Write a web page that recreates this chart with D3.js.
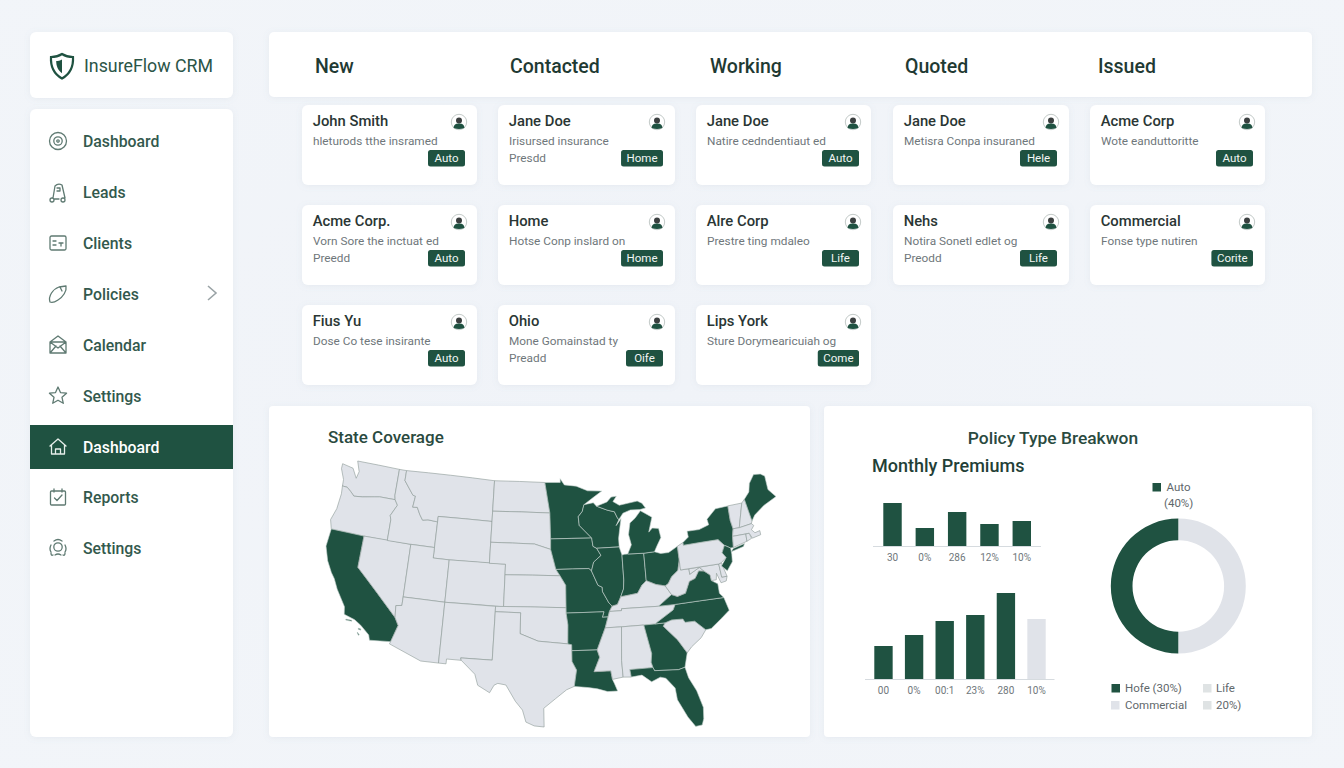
<!DOCTYPE html>
<html><head><meta charset="utf-8">
<script src="https://cdnjs.cloudflare.com/ajax/libs/d3/7.8.5/d3.min.js"></script>
<style>html,body{margin:0;padding:0;background:#f0f4f8;overflow:hidden}svg{display:block}text{font-family:Roboto,sans-serif}</style>
</head><body><svg id="c" width="1344" height="768"></svg>
<script>
// ---------- data ----------
const brandName = "InsureFlow CRM";
const navItems = ["Dashboard","Leads","Clients","Policies","Calendar","Settings","Dashboard","Reports","Settings"];
const navActive = 6;
const stages = ["New","Contacted","Working","Quoted","Issued"];
const cardNames = [
 ["John Smith","Acme Corp.","Fius Yu"],
 ["Jane Doe","Home","Ohio"],
 ["Jane Doe","Alre Corp","Lips York"],
 ["Jane Doe","Nehs"],
 ["Acme Corp","Commercial"]];
const cardLines = [
 ["hleturods tthe insramed","Vorn Sore the inctuat ed","Dose Co tese insirante"],
 ["Irisursed insurance","Hotse Conp inslard on","Mone Gomainstad ty"],
 ["Natire cedndentiaut ed","Prestre ting mdaleo","Sture Dorymearicuiah og"],
 ["Metisra Conpa insuraned","Notira Sonetl edlet og"],
 ["Wote eanduttoritte","Fonse type nutiren"]];
const cardExtras = [
 ["","Preedd",""],
 ["Presdd","","Preadd"],
 ["","",""],
 ["","Preodd"],
 ["",""]];
const cardTags = [
 ["Auto","Auto","Auto"],
 ["Home","Home","Oife"],
 ["Auto","Life","Come"],
 ["Hele","Life"],
 ["Auto","Corite"]];
const topBarLabels = ["30","0%","286","12%","10%"];
const topBarValues = [43,18,34,22,25];
const lowBarLabels = ["00","0%","00:1","23%","280","10%"];
const lowBarValues = [33,44,58,64,86,60];
const lowBarMuted = [false,false,false,false,false,true];
const donutValues = [50,50];
const donutNames = ["Other","Auto"];
const highlighted = ["CA","MN","WI","MI","IA","IL","IN","OH","MO","AR","LA","GA","FL","NC","VA","NY","NJ","ME"];
// state outlines in longitude/latitude
const stateShapes = {
WA:[[[-124.7,48.4],[-123.2,48.2],[-122.5,47.3],[-122.3,48],[-122.8,49],[-117.03,49],[-117.04,46.4],[-116.92,45.99],[-118.98,45.99],[-119.6,45.9],[-121.2,45.65],[-122.3,45.55],[-122.8,45.9],[-123.4,46.25],[-124.05,46.27],[-124.1,46.9],[-124.7,47.9]]],
OR:[[[-124.05,46.27],[-123.4,46.25],[-122.8,45.9],[-122.3,45.55],[-121.2,45.65],[-119.6,45.9],[-118.98,45.99],[-116.92,45.99],[-116.5,45.5],[-117.2,44.4],[-117.03,44],[-117.03,42],[-120,42],[-124.2,42],[-124.55,42.85],[-124.1,44],[-123.95,45.5]]],
CA:[[[-124.2,42],[-120,42],[-120,39],[-114.63,35],[-114.14,34.3],[-114.72,32.72],[-117.12,32.53],[-117.3,33],[-118.4,33.75],[-119.2,34.15],[-120.5,34.45],[-120.65,35.15],[-121.9,36.6],[-122.5,37.5],[-123,38],[-123.75,39],[-124.35,40.3]],
 [[-120.2,34.05],[-119.5,34.05],[-119.5,33.95],[-120.2,33.95]],[[-118.6,33.45],[-118.3,33.4],[-118.3,33.3],[-118.6,33.35]],[[-118.6,33.05],[-118.35,32.85],[-118.45,32.8],[-118.65,33]]],
NV:[[[-120,42],[-114.04,42],[-114.04,37],[-114.04,36.2],[-114.74,36.1],[-114.63,35],[-120,39]]],
ID:[[[-117.03,49],[-116.05,49],[-116.05,48],[-114.7,46.7],[-114.35,46.65],[-114.5,45.55],[-113.9,45.6],[-113.45,44.95],[-113,44.45],[-112.3,44.55],[-111.05,44.47],[-111.05,42],[-114.04,42],[-117.03,42],[-117.03,44],[-117.2,44.4],[-116.5,45.5],[-116.92,45.99],[-117.04,46.4]]],
MT:[[[-116.05,49],[-104.05,49],[-104.05,45],[-111.05,45],[-111.05,44.47],[-112.3,44.55],[-113,44.45],[-113.45,44.95],[-113.9,45.6],[-114.5,45.55],[-114.35,46.65],[-114.7,46.7],[-116.05,48]]],
WY:[[[-111.05,45],[-104.05,45],[-104.05,41],[-109.05,41],[-111.05,41]]],
UT:[[[-114.04,42],[-111.05,42],[-111.05,41],[-109.05,41],[-109.05,37],[-114.04,37]]],
CO:[[[-109.05,41],[-102.05,41],[-102.05,37],[-109.05,37]]],
AZ:[[[-114.04,37],[-109.05,37],[-109.05,31.33],[-111.07,31.33],[-114.81,32.5],[-114.72,32.72],[-114.14,34.3],[-114.63,35],[-114.74,36.1],[-114.04,36.2]]],
NM:[[[-109.05,37],[-103,37],[-103.05,32],[-106.62,32],[-106.53,31.78],[-108.2,31.78],[-108.2,31.33],[-109.05,31.33]]],
ND:[[[-104.05,49],[-97.23,49],[-96.55,46],[-104.05,46]]],
SD:[[[-104.05,46],[-96.55,46],[-96.45,43.5],[-96.45,42.5],[-98.5,43],[-104.05,43]]],
NE:[[[-104.05,43],[-98.5,43],[-96.45,42.5],[-95.8,40.6],[-95.3,40],[-102.05,40],[-102.05,41],[-104.05,41]]],
KS:[[[-102.05,40],[-95.3,40],[-94.62,39.1],[-94.62,37],[-102.05,37]]],
OK:[[[-103,37],[-94.62,37],[-94.62,36.5],[-94.43,35.4],[-94.48,33.64],[-96.5,33.8],[-97.9,33.9],[-100,34.56],[-100,36.5],[-103,36.5]]],
TX:[[[-103,36.5],[-100,36.5],[-100,34.56],[-97.9,33.9],[-96.5,33.8],[-94.48,33.64],[-94.04,33.55],[-94.04,32],[-93.55,31.2],[-93.85,29.7],[-94.7,29.4],[-95.9,28.6],[-97.2,27.7],[-97.15,25.97],[-98.2,26.06],[-99.1,26.4],[-99.5,27.5],[-100.3,28.3],[-101.4,29.77],[-102.3,29.88],[-102.7,29.7],[-103.15,28.98],[-104.5,29.6],[-104.9,30.6],[-106.53,31.78],[-106.62,32],[-103.05,32]]],
MN:[[[-97.23,49],[-95.15,49],[-95.15,49.38],[-94.6,48.75],[-93,48.6],[-91.5,48.1],[-89.6,48],[-92.05,46.75],[-92.3,46.1],[-92.85,45.6],[-92.75,44.75],[-91.22,43.5],[-96.45,43.5],[-96.55,46]]],
IA:[[[-96.45,43.5],[-91.22,43.5],[-91.1,42.7],[-90.65,42.5],[-90.15,41.8],[-91.1,41.2],[-91.42,40.38],[-91.73,40.61],[-95.8,40.6],[-96.45,42.5]]],
MO:[[[-95.8,40.6],[-91.73,40.61],[-91.42,40.38],[-90.7,39],[-90.2,38.8],[-90.2,38.4],[-89.5,37.3],[-89.15,36.98],[-89.5,36.5],[-89.7,36],[-90.37,36],[-90.15,36.5],[-94.62,36.5],[-94.62,37],[-94.62,39.1],[-95.3,40]]],
AR:[[[-94.62,36.5],[-90.15,36.5],[-90.37,36],[-89.7,36],[-90.1,35],[-91.15,33],[-94.04,33],[-94.04,33.55],[-94.48,33.64],[-94.43,35.4]]],
LA:[[[-94.04,33],[-91.15,33],[-90.9,32.3],[-91.6,31],[-89.73,31],[-89.6,30.2],[-89.4,29.8],[-89.1,29.1],[-90.2,29.1],[-91.3,29.4],[-92.3,29.55],[-93.85,29.7],[-93.55,31.2],[-94.04,32]]],
WI:[[[-92.05,46.75],[-90.8,46.9],[-90.4,46.55],[-89,46.1],[-88.1,45.9],[-87.8,45.35],[-87.6,45.1],[-88,44.55],[-87.3,45.2],[-87.55,44.3],[-87.8,43.3],[-87.8,42.5],[-90.65,42.5],[-91.1,42.7],[-91.22,43.5],[-92.75,44.75],[-92.85,45.6],[-92.3,46.1]]],
IL:[[[-90.65,42.5],[-87.8,42.5],[-87.53,41.7],[-87.53,39.35],[-87.65,38.5],[-88.05,37.8],[-88.5,37.1],[-89.15,36.98],[-89.5,37.3],[-90.2,38.4],[-90.2,38.8],[-90.7,39],[-91.42,40.38],[-91.1,41.2],[-90.15,41.8]]],
IN:[[[-87.53,41.7],[-87.2,41.76],[-86.8,41.76],[-84.8,41.7],[-84.82,39.1],[-85.4,38.7],[-86,38],[-87,37.9],[-88.05,37.8],[-87.65,38.5],[-87.53,39.35]]],
OH:[[[-84.8,41.7],[-83.45,41.73],[-82.7,41.5],[-81.7,41.5],[-80.52,41.98],[-80.52,40.64],[-80.85,39.7],[-81.7,39.2],[-82.2,38.6],[-82.6,38.42],[-83.7,38.65],[-84.82,39.1]]],
MI:[[[-86.8,41.76],[-84.8,41.7],[-83.45,41.73],[-83.1,42.2],[-82.45,43],[-82.6,43.9],[-83.4,44],[-83.9,43.65],[-83.3,45.05],[-84.7,45.78],[-85.5,45.1],[-86.2,44.7],[-86.5,43.6],[-86.25,42.6]],
 [[-90.4,46.55],[-89,46.9],[-88.4,47.35],[-87.7,47.4],[-88.2,46.9],[-87.4,46.5],[-85,46.75],[-84.4,46.5],[-84,46],[-84.75,45.9],[-86,45.95],[-87,45.7],[-87.6,45.1],[-87.8,45.35],[-88.1,45.9],[-89,46.1]]],
KY:[[[-89.5,36.5],[-89.15,36.98],[-88.5,37.1],[-88.05,37.8],[-87,37.9],[-86,38],[-85.4,38.7],[-84.82,39.1],[-83.7,38.65],[-82.6,38.42],[-81.97,37.54],[-83.67,36.6],[-88.05,36.68],[-88.07,36.5]]],
TN:[[[-89.5,36.5],[-88.07,36.5],[-88.05,36.68],[-83.67,36.6],[-81.68,36.59],[-82,36.1],[-84.3,35],[-85.6,35],[-88.2,35],[-90.1,35],[-89.7,36]]],
MS:[[[-90.1,35],[-88.2,35],[-88.45,31.9],[-88.4,30.35],[-89.6,30.2],[-89.73,31],[-91.6,31],[-90.9,32.3],[-91.15,33]]],
AL:[[[-88.2,35],[-85.6,35],[-85,32.3],[-85.15,31.5],[-85,31],[-87.6,31],[-87.5,30.3],[-88.4,30.35],[-88.45,31.9]]],
GA:[[[-85.6,35],[-84.3,35],[-83.1,35],[-83.35,34.7],[-81.9,33.3],[-81,32],[-81.45,30.7],[-82.2,30.55],[-84.86,30.7],[-85,31],[-85.15,31.5],[-85,32.3]]],
FL:[[[-87.6,31],[-85,31],[-84.86,30.7],[-82.2,30.55],[-81.45,30.7],[-81.2,29.7],[-80.5,28.4],[-80.03,26.8],[-80.15,25.75],[-80.4,25.2],[-81.1,25.15],[-81.8,26.1],[-82.7,27.8],[-82.8,28.9],[-83.7,29.9],[-84.3,30.05],[-85.3,29.7],[-86.3,30.4],[-87.5,30.3]]],
SC:[[[-83.1,35],[-82.3,35.2],[-81,35.15],[-80.8,34.82],[-79.67,34.8],[-78.55,33.86],[-79.2,33.2],[-80.4,32.5],[-81,32],[-81.9,33.3],[-83.35,34.7]]],
NC:[[[-84.3,35],[-82,36.1],[-81.68,36.59],[-75.87,36.55],[-75.5,35.3],[-76.5,34.7],[-77.9,33.9],[-78.55,33.86],[-79.67,34.8],[-80.8,34.82],[-81,35.15],[-82.3,35.2],[-83.1,35]]],
VA:[[[-83.67,36.6],[-81.97,37.54],[-81.3,37.3],[-80.3,37.5],[-79.65,38.55],[-78.9,38.75],[-78.35,39.4],[-77.7,39.3],[-77.05,38.85],[-77,38.3],[-76.3,37.9],[-76.3,37],[-75.87,36.55],[-81.68,36.59]]],
WV:[[[-81.97,37.54],[-82.6,38.42],[-82.2,38.6],[-81.7,39.2],[-80.85,39.7],[-80.52,40.64],[-80.52,39.72],[-79.48,39.72],[-79.48,39.2],[-78.2,39.7],[-77.7,39.3],[-78.35,39.4],[-78.9,38.75],[-79.65,38.55],[-80.3,37.5],[-81.3,37.3]]],
MD:[[[-79.48,39.72],[-75.79,39.72],[-75.7,38.46],[-75.05,38.45],[-75.25,38.03],[-75.9,37.95],[-76.25,38.9],[-76.4,38.3],[-77,38.3],[-77.05,38.85],[-77.7,39.3],[-78.2,39.7],[-79.48,39.2]]],
DE:[[[-75.79,39.72],[-75.45,39.8],[-75.05,38.45],[-75.7,38.46]]],
PA:[[[-80.52,41.98],[-79.76,42.27],[-79.76,42],[-75.35,42],[-74.7,41.36],[-75.15,40.7],[-74.75,40.2],[-75.45,39.8],[-75.79,39.72],[-80.52,39.72],[-80.52,40.64]]],
NY:[[[-79.76,42.27],[-79,42.7],[-79.05,43.27],[-77.5,43.25],[-76.2,43.55],[-76.3,44.1],[-75,44.95],[-73.35,45],[-73.4,43.6],[-73.25,42.75],[-73.5,42.05],[-73.65,41],[-74,41],[-74.7,41.36],[-75.35,42],[-79.76,42]],
 [[-74,40.65],[-73.7,40.9],[-72.2,41.15],[-72.4,40.9]]],
NJ:[[[-74.7,41.36],[-74,41],[-74,40.4],[-74.1,39.7],[-74.9,38.95],[-75.5,39.5],[-74.75,40.2],[-75.15,40.7]]],
VT:[[[-73.35,45],[-71.5,45],[-72.45,42.73],[-73.25,42.75],[-73.4,43.6]]],
NH:[[[-71.5,45],[-71.08,45.3],[-70.7,43.1],[-70.85,42.87],[-72.45,42.73]]],
ME:[[[-71.08,45.3],[-70.3,45.9],[-70,46.7],[-69.2,47.45],[-68.3,47.35],[-67.8,47.05],[-67.8,45.7],[-67,44.85],[-68.8,44.3],[-70.2,43.6],[-70.7,43.1]]],
MA:[[[-73.5,42.05],[-73.25,42.75],[-72.45,42.73],[-70.85,42.87],[-70.6,42.65],[-71,42.3],[-70.65,41.95],[-70,42.05],[-70,41.65],[-71.1,41.5],[-71.38,42.02],[-71.8,42.02]]],
CT:[[[-73.5,42.05],[-71.8,42.02],[-71.85,41.32],[-73.65,41]]],
RI:[[[-71.8,42.02],[-71.38,42.02],[-71.2,41.5],[-71.85,41.32]]]
};
// ---------- palette ----------
const GREEN="#1f5241", GREY="#e0e3e9", INK="#1f3a33", MUTED="#6f777b", NAV="#33594d";
const svg=d3.select("#c");
const defs=svg.append("defs");
const f=defs.append("filter").attr("id","sh").attr("x","-10%").attr("y","-10%").attr("width","120%").attr("height","130%");
f.append("feDropShadow").attr("dx",0).attr("dy",1).attr("stdDeviation",3).attr("flood-color","#7f8fa8").attr("flood-opacity",.11);
const bg=defs.append("radialGradient").attr("id","bg").attr("cx","50%").attr("cy","50%").attr("r","75%");
bg.append("stop").attr("offset","0%").attr("stop-color","#f0f3f8");
bg.append("stop").attr("offset","100%").attr("stop-color","#f2f5f9");
svg.append("rect").attr("width",1344).attr("height",768).attr("fill","url(#bg)");
function panel(x,y,w,h,r=6){return svg.append("rect").attr("x",x).attr("y",y).attr("width",w).attr("height",h).attr("rx",r).attr("fill","#fff").attr("filter","url(#sh)");}
function label(g,x,y,t,size,color,weight=400,anchor="start"){return g.append("text").attr("x",x).attr("y",y).attr("font-size",size).attr("fill",color).attr("font-weight",weight).attr("text-anchor",anchor).text(t);}

// ---------- panels ----------
panel(30,32,203,66);
panel(30,109,203,628);
panel(269,32,1043,65,5);
panel(269,406,541,331,4);
panel(824,406,488,331,4);

// ---------- logo ----------
const lg=svg.append("g").attr("transform","translate(62,66)");
const shield="M0,-12 C4,-9.5 8,-9 11,-9 C11.5,0 8,8 0,12.5 C-8,8 -11.5,0 -11,-9 C-8,-9 -4,-9.5 0,-12Z";
lg.append("path").attr("d",shield).attr("fill","none").attr("stroke",GREEN).attr("stroke-width",2.2);
lg.append("path").attr("d","M0,-6.5 C-2,-5.5 -4,-5 -5.8,-5 C-5.8,0 -4,4.5 0,7.2Z").attr("fill",GREEN);
label(svg,84,72,brandName,17.8,"#2b5547",400);

// ---------- nav ----------
const navY=d3.scalePoint().domain(d3.range(navItems.length)).range([141,548]);
const ico=[
 g=>{g.append("circle").attr("r",8.5);g.append("circle").attr("r",4.2);g.append("circle").attr("r",1.2);},
 g=>{g.append("path").attr("d","M-5,6 L-3,-6 Q0,-9 4,-7 L7,6 M-8,8 a2,2 0 1 0 4,0 a2,2 0 1 0 -4,0 M-4,7 L1,7 M3,8 a2,2 0 1 0 4,0 a2,2 0 1 0 -4,0 M-1,-4 h3 v3 h-3");},
 g=>{g.append("rect").attr("x",-8).attr("y",-7).attr("width",16).attr("height",14).attr("rx",1.5);g.append("path").attr("d","M-5,-2 h3 M-5,2 h3 M1,0 h4 M3,0 v3");},
 g=>{g.append("path").attr("d","M-8,8 C-10,2 -5,-5 1,-7 L8,-8 C9,-3 5,3 0,6 C-3,8 -6,9 -8,8Z M2,-7 L4,-3");},
 g=>{g.append("path").attr("d","M-8,-3 L0,-9 L8,-3 L8,8 L-8,8Z M-8,-3 L0,3 L8,-3 M-8,8 L-2,1 M8,8 L2,1 M-8,-3 H8");},
 g=>{g.append("path").attr("d",d3.range(10).map(i=>{const a=-Math.PI/2+i*Math.PI/5,r=i%2?4.2:9;return (i?"L":"M")+(r*Math.cos(a)).toFixed(2)+","+(r*Math.sin(a)).toFixed(2);}).join("")+"Z");},
 g=>{g.append("path").attr("d","M-8,-1 L0,-8 L8,-1 M-6.5,-2 V7 H6.5 V-2 M-2.5,7 V2 H2.5 V7");},
 g=>{g.append("rect").attr("x",-7.5).attr("y",-6).attr("width",15).attr("height",14).attr("rx",1);g.append("path").attr("d","M-4,-8 V-5 M4,-8 V-5 M-3.5,1 L-1,3.5 L4,-2");},
 g=>{g.append("circle").attr("r",4.2).attr("cy",-1);g.append("path").attr("d","M-4,-7 Q0,-10 4,-7 M-7,-3 Q-9,1 -7,4 M7,-3 Q9,1 7,4 M-5,7 Q-7,8 -7,5 M5,7 Q7,8 7,5 M-3,7 Q0,5 3,7");}
];
svg.append("rect").attr("x",30).attr("y",425).attr("width",203).attr("height",44).attr("fill",GREEN);
navItems.forEach((t,i)=>{
  const y=Math.round(navY(i)+.35),act=i===navActive;
  const g=svg.append("g").attr("transform",`translate(58,${y})`).attr("fill","none").attr("stroke",act?"#e6eeea":"#5f7a72").attr("stroke-width",1.3).attr("stroke-linejoin","round").attr("stroke-linecap","round");
  ico[i](g);
  label(svg,83,y+5.6,t,15.8,act?"#fff":NAV,500);
});
svg.append("path").attr("d","M208,286 L216,293 L208,300").attr("fill","none").attr("stroke","#9aa3a6").attr("stroke-width",1.6);

// ---------- kanban ----------
const stageX=[315,510,710,905,1098];
stages.forEach((s,i)=>label(svg,stageX[i],73,s,19.5,INK,500));
const colLeft=[302,498,696,893,1090], colWidth=[175,177,175,176,175];
const rowY=d3.scalePoint().domain(d3.range(3)).range([105,305]);
cardNames.forEach((col,c)=>col.forEach((name,r)=>{
  const x=colLeft[c],y=rowY(r),w=colWidth[c],right=x+w;
  const g=svg.append("g");
  g.append("rect").attr("x",x).attr("y",y).attr("width",w).attr("height",80).attr("rx",6).attr("fill","#fff").attr("filter","url(#sh)");
  label(g,x+10.7,y+21,name,14.8,"#2a3634",500);
  label(g,x+11,y+40,cardLines[c][r],11.8,MUTED);
  if(cardExtras[c][r]) label(g,x+11,y+57,cardExtras[c][r],11.8,MUTED);
  const a=g.append("g").attr("transform",`translate(${right-18},${y+17})`);
  a.append("circle").attr("r",7.7).attr("fill","#fff").attr("stroke","#c3cac8").attr("stroke-width",1);
  a.append("circle").attr("cy",-1.6).attr("r",3).attr("fill","#3b3f3f");
  a.append("path").attr("d","M-5.5,6 C-5,2 -2.5,1.5 0,1.5 C2.5,1.5 5,2 5.5,6 Q0,8 -5.5,6Z").attr("fill",GREEN);
  const tag=cardTags[c][r];
  const tx=g.append("text").attr("font-size",11.5).attr("fill","#f2f6f4").attr("text-anchor","middle").attr("y",y+57).text(tag);
  const tw=Math.max(37,tx.node().getComputedTextLength()+11);
  const tagR=right-12;
  g.insert("rect","text:last-of-type").attr("x",tagR-tw).attr("y",y+45).attr("width",tw).attr("height",16.5).attr("rx",2.5).attr("fill",GREEN);
  tx.attr("x",tagR-tw/2).raise();
}));

// ---------- map ----------
label(svg,328,443,"State Coverage",17,"#2a4a40",500);
const ensureCW=ring=>{const t={type:"Polygon",coordinates:[ring]};return d3.geoArea(t)>2*Math.PI?ring.slice().reverse():ring;};
const features=Object.entries(stateShapes).map(([id,polys])=>({type:"Feature",id,geometry:{type:"MultiPolygon",coordinates:polys.map(r=>{const c=r.concat([r[0]]);return [ensureCW(c)];})}}));
const fc={type:"FeatureCollection",features};
const albers=d3.geoConicEqualArea().rotate([96.5,0]).center([0,38.7]).parallels([20,38]).precision(.1).fitSize([1000,1000],fc);
const b=d3.geoPath(albers).bounds(fc);
const mx=d3.scaleLinear().domain([b[0][0],b[1][0]]).range([326,776]);
const my=d3.scaleLinear().domain([b[0][1],b[1][1]]).range([461,727]);
const stretch=d3.geoTransform({point(x,y){this.stream.point(mx(x),my(y));}});
const geoPath=d3.geoPath({stream:s=>albers.stream(stretch.stream(s))});
svg.append("g").selectAll("path").data(features).join("path")
  .attr("d",geoPath)
  .attr("fill",d=>highlighted.includes(d.id)?GREEN:GREY)
  .attr("stroke",d=>highlighted.includes(d.id)?"#c8d4d0":"#8b9895")
  .attr("stroke-width",.6).attr("stroke-linejoin","round");

// ---------- bars ----------
label(svg,1053,444,"Policy Type Breakwon",17.4,"#2a4a40",500,"middle");
label(svg,872,472,"Monthly Premiums",18,"#233f37",500);
function bars(labels,values,muted,xr,base,axisR,labelY,pad){
  const x=d3.scaleBand().domain(d3.range(values.length)).range(xr).paddingInner(pad);
  const y=d3.scaleLinear().domain([0,100]).range([base,base-100]);
  const g=svg.append("g");
  g.selectAll("rect").data(values).join("rect").attr("x",(d,i)=>x(i)).attr("width",x.bandwidth())
    .attr("y",d=>y(d)).attr("height",d=>base-y(d)).attr("fill",(d,i)=>muted&&muted[i]?GREY:GREEN);
  g.append("line").attr("x1",axisR[0]).attr("x2",axisR[1]).attr("y1",base+.5).attr("y2",base+.5).attr("stroke","#d6dbdf").attr("stroke-width",1);
  labels.forEach((t,i)=>label(g,x(i)+x.bandwidth()/2,labelY,t,10,MUTED,400,"middle"));
}
bars(topBarLabels,topBarValues,null,[883.3,1031],546,[873,1041],561,.43);
bars(lowBarLabels,lowBarValues,lowBarMuted,[874.3,1045.7],679,[865,1054.5],694,.4);

// ---------- donut ----------
const arc=d3.arc().innerRadius(45.8).outerRadius(67.5);
const pie=d3.pie().sort(null).value(d=>d);
svg.append("g").attr("transform","translate(1178.3,586)").selectAll("path").data(pie(donutValues)).join("path")
  .attr("d",arc).attr("fill",(d,i)=>donutNames[i]==="Auto"?GREEN:GREY);
const sw=(x,y,c)=>svg.append("rect").attr("x",x).attr("y",y).attr("width",8.5).attr("height",8.5).attr("fill",c);
const LG="#5f686c";
sw(1152.5,483,GREEN);label(svg,1166.5,491,"Auto",11.5,LG);
label(svg,1164,507,"(40%)",11.5,LG);
sw(1111.5,684,GREEN);label(svg,1125,692,"Hofe (30%)",11.5,LG);
sw(1203,684,"#dfe3e4");label(svg,1216,692,"Life",11.5,LG);
sw(1111,701,GREY);label(svg,1125,709,"Commercial",11.5,LG);
sw(1203,701,"#dfe3e4");label(svg,1216,709,"20%)",11.5,LG);
</script></body></html>
